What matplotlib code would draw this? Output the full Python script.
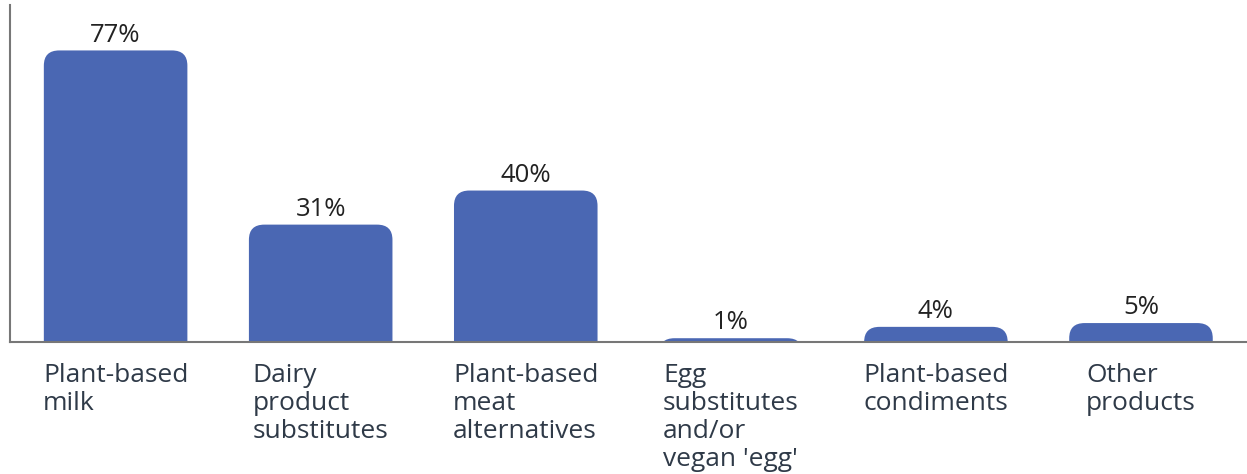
import matplotlib.pyplot as plt
from matplotlib.patches import FancyBboxPatch

categories = ["Plant-based\nmilk", "Dairy\nproduct\nsubstitutes", "Plant-based\nmeat\nalternatives",
              "Egg\nsubstitutes\nand/or\nvegan 'egg'", "Plant-based\ncondiments", "Other\nproducts"]
values = [77, 31, 40, 1, 4, 5]
value_labels = ["77%", "31%", "40%", "1%", "4%", "5%"]

bar_color = "#4a67b3"
plt.rcParams["font.family"] = ["Open Sans", "DejaVu Sans"]

fig = plt.figure(figsize=(12.47, 4.74), dpi=100)
ax = fig.add_axes([10 / 1247, 1 - 342 / 474, 1 - 10 / 1247, 337 / 474])

x = list(range(len(categories)))
width = 0.7
bars = ax.bar(x, values, width=width, color=bar_color)

ax.set_xlim(-0.515, 5.517)
ax.set_ylim(0, 89)

# swap the plain rectangles for ones with rounded top corners
rx = 0.075
ry = 4.0
for b in bars:
    b.set_visible(False)
    rounded = FancyBboxPatch((b.get_x(), -12), b.get_width(), b.get_height() + 12,
                             boxstyle=f"round,pad=0,rounding_size={rx}",
                             mutation_aspect=ry / rx, facecolor=bar_color,
                             edgecolor="none", clip_on=True)
    ax.add_patch(rounded)

ax.bar_label(bars, labels=value_labels, padding=2, fontsize=18.5, color="#222222")

# category labels: block centred under the bar, lines left-aligned
ax.set_xticks(x)
ax.set_xticklabels(categories, ha="center", va="top", multialignment="left",
                   fontsize=19, color="#2f3a48", linespacing=1.16)
ax.tick_params(axis="x", length=0, pad=15)
ax.set_yticks([])

for side in ["top", "right"]:
    ax.spines[side].set_visible(False)
for side in ["left", "bottom"]:
    ax.spines[side].set_color("#777777")
    ax.spines[side].set_linewidth(1.5)
    ax.spines[side].set_zorder(5)

fig.savefig("out.png", dpi=100)
